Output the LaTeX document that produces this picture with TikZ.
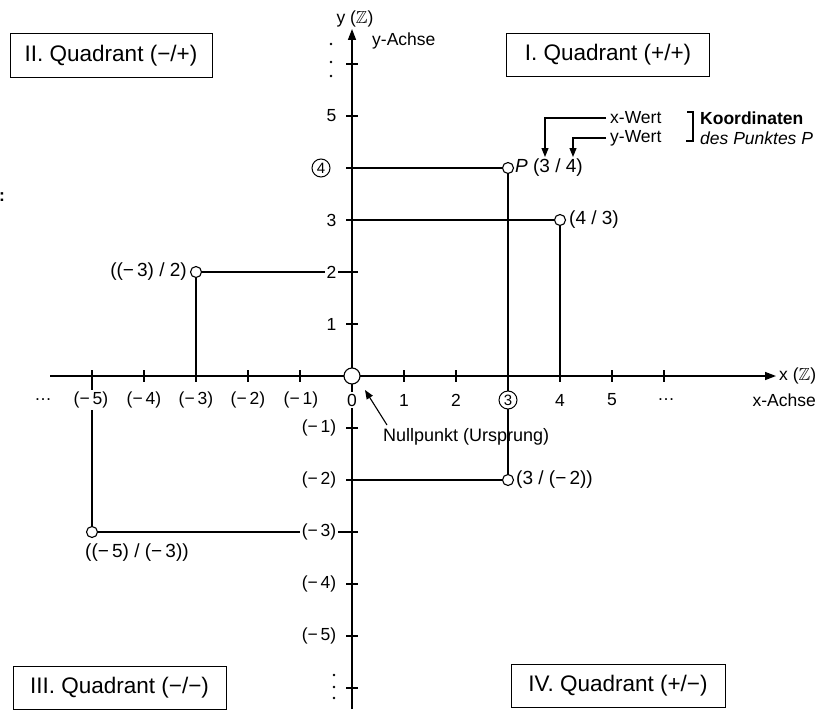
\documentclass[tikz,border=0pt]{standalone}
\usepackage{fontspec}
\setmainfont{Liberation Sans}
\usepackage{amssymb}
\usetikzlibrary{arrows.meta}
\newcommand\smallf{\fontsize{17.5}{20}\selectfont}
\newcommand\ptf{\fontsize{19}{22}\selectfont}
\newcommand\quadf{\fontsize{22.5}{26}\selectfont}
\begin{document}
\begin{tikzpicture}[x=1pt,y=-1pt,
  every node/.style={font=\smallf, inner sep=2pt},
  ln/.style={line width=1.2pt},
  axisline/.style={line width=1.5pt, -{Triangle[length=11pt,width=8pt]}},
  tk/.style={line width=1.1pt},
  dot/.style={circle, draw, line width=1.1pt, fill=white, minimum size=11pt, inner sep=0pt},
  quad/.style={draw, line width=1pt, minimum height=43pt, font=\quadf},
  lab/.style={fill=white, inner sep=1.5pt},
  ptlab/.style={font=\ptf},
  cdig/.style={circle, draw, line width=1pt, inner sep=0.5pt, minimum size=18pt, font=\fontsize{15}{17}\selectfont, fill=white},
  arr/.style={line width=1.1pt, -{Triangle[length=9pt,width=7pt]}},
]
\useasboundingbox (0,0) rectangle (818,709);

% axes
\coordinate (xs) at (50,376); \coordinate (xe) at (776,376);
\coordinate (ys) at (352,709); \coordinate (ye) at (352,29);
\draw[axisline] (xs) -- (xe);
\draw[axisline] (ys) -- (ye);

% ticks
\foreach \x in {92,144,196,248,300,404,456,508,560,612,664}
  \draw[tk] (\x,370) -- (\x,382);
\foreach \y in {64,116,168,220,272,324,428,480,532,584,636,688}
  \draw[tk] (346,\y) -- (358,\y);

% vertical dots on y-axis
\foreach \yy in {44,62,76} \fill (331,\yy) circle (1.3pt);
\foreach \yy in {675,687,698} \fill (334,\yy) circle (1.3pt);

% points
\node[dot] (P) at (508,168) {};
\node[dot] (Q43) at (560,220) {};
\node[dot] (Qm32) at (196,272) {};
\node[dot] (Qm5m3) at (92,532) {};
\node[dot] (Q3m2) at (508,480) {};

\coordinate (Py) at (352,168); \coordinate (Px) at (508,376);
\coordinate (Q43y) at (352,220); \coordinate (Q43x) at (560,376);
\coordinate (Qm32y) at (352,272); \coordinate (Qm32x) at (196,376);
\coordinate (Qm5m3y) at (352,532); \coordinate (Qm5m3x) at (92,376);
\coordinate (Q3m2y) at (352,480); \coordinate (Q3m2x) at (508,376);

\draw[ln] (Py) -- (P); \draw[ln] (P) -- (Px);
\draw[ln] (Q43y) -- (Q43); \draw[ln] (Q43) -- (Q43x);
\draw[ln] (Qm32) -- (Qm32y); \draw[ln] (Qm32) -- (Qm32x);
\draw[ln] (Qm5m3) -- (Qm5m3y); \draw[ln] (Qm5m3) -- (Qm5m3x);
\draw[ln] (Q3m2y) -- (Q3m2); \draw[ln] (Q3m2) -- (Q3m2x);

% origin
\node[dot, minimum size=16pt] (O) at (352,376) {};

% x-axis labels
\node (dl) at (43,400) {…};
\node[lab] (xm5) at (91,400) {(−\,5)};
\node[lab] (xm4) at (144,400) {(−\,4)};
\node[lab] (xm3) at (196,400) {(−\,3)};
\node[lab] (xm2) at (248,400) {(−\,2)};
\node[lab] (xm1) at (301,400) {(−\,1)};
\node[lab] (x0) at (352,400) {0};
\node[lab] (x1) at (404,400) {1};
\node[lab] (x2) at (456,400) {2};
\node[cdig] (x3) at (508,400) {3};
\node[lab] (x4) at (560,400) {4};
\node[lab] (x5) at (612,400) {5};
\node (dr) at (666,400) {…};

% y-axis labels
\node[lab, anchor=east] (y5) at (338,116) {5};
\node[cdig] (y4) at (321,168) {4};
\node[lab, anchor=east] (y3) at (338,220) {3};
\node[lab, anchor=east] (y2) at (338,272) {2};
\node[lab, anchor=east] (y1) at (338,324) {1};
\node[lab, anchor=east] (ym1) at (338,428) {(−\,1)};
\node[lab, anchor=east] (ym2) at (338,480) {(−\,2)};
\node[lab, anchor=east] (ym3) at (338,532) {(−\,3)};
\node[lab, anchor=east] (ym4) at (338,584) {(−\,4)};
\node[lab, anchor=east] (ym5) at (338,636) {(−\,5)};

% axis names
\node (ylab) at (355,19) {y ($\mathbb{Z}$)};
\node[anchor=west] (yach) at (370,41) {y-Achse};
\node[anchor=west] (xlab) at (777,376) {x ($\mathbb{Z}$)};
\node[anchor=east] (xach) at (818,400) {x-Achse};

% point labels
\node[ptlab, anchor=west] (Pl) at (513,168) {\textit{P} (3 / 4)};
\node[ptlab, anchor=west] (Q43l) at (567,220) {(4 / 3)};
\node[ptlab, anchor=east] (Qm32l) at (189,272) {((−\,3) / 2)};
\node[ptlab, anchor=north west] (Qm5m3l) at (83,542) {((−\,5) / (−\,3))};
\node[ptlab, anchor=west] (Q3m2l) at (514,480) {(3 / (−\,2))};

% Nullpunkt
\node[anchor=west, font=\fontsize{18}{20}\selectfont] (nul) at (381,437) {Nullpunkt (Ursprung)};
\coordinate (ntail) at (387,425); \coordinate (ntip) at (365,390);
\draw[arr] (ntail) -- (ntip);

% Koordinaten annotation
\node[anchor=west] (xw) at (608,118) {x-Wert};
\node[anchor=west] (yw) at (608,138) {y-Wert};
\coordinate (xtip) at (545,157); \coordinate (ytip) at (573,157);
\draw[arr] ([xshift=-2pt]xw.west) -| (xtip);
\draw[arr] ([xshift=-2pt]yw.west) -| (ytip);
\draw[ln] (687,112) -- (693,112) -- (693,141) -- (686,141);
\node[anchor=west, font=\smallf\bfseries] (koo) at (698,118) {Koordinaten};
\node[anchor=west] (des) at (698,138) {\itshape des Punktes P};

% quadrant boxes
\node[quad, minimum width=202pt] (q2) at (111,55.5) {II. Quadrant (−/+)};
\node[quad, minimum width=203pt] (q1) at (608,55) {I. Quadrant (+/+)};
\node[quad, minimum width=213pt] (q3) at (119.5,688) {III. Quadrant (−/−)};
\node[quad, minimum width=214pt] (q4) at (618,686) {IV. Quadrant (+/−)};

% stray colon at left edge
\node[anchor=west, font=\smallf\bfseries, inner sep=0pt] (col) at (-1,197) {:};
\end{tikzpicture}
\end{document}
